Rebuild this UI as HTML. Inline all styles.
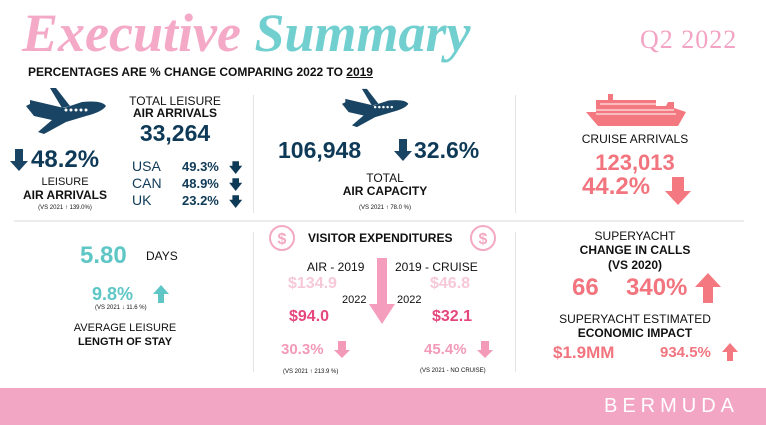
<!DOCTYPE html>
<html><head><meta charset="utf-8"><style>
body{margin:0;width:766px;height:425px;background:#fff;position:relative;overflow:hidden;font-family:"Liberation Sans",sans-serif;font-weight:bold}
.a{position:absolute;white-space:nowrap;line-height:1}
.n{color:#0f3a57}.k{color:#111}.p{color:#e5477c}.lp{color:#f7c9d8}.s{color:#f2747e}.t{color:#5fc6c6}.mp{color:#f39ab9}
.c{text-align:center}
</style></head><body>
<div class="a" style="left:22px;top:6px;font-family:'Liberation Serif',serif;font-style:italic;font-size:54px;color:#f4a9c7">Executive <span style="color:#72cfd0">Summary</span></div>
<div class="a" style="left:640px;top:27px;font-family:'Liberation Serif',serif;font-size:26px;color:#f3a3c3;font-weight:normal;letter-spacing:1px">Q2 2022</div>
<div class="a k" style="left:28px;top:66px;font-size:12px">PERCENTAGES ARE % CHANGE COMPARING 2022 TO <u>2019</u></div>

<div class="a" style="left:253px;top:95px;width:1px;height:118px;background:#e4e4e4"></div>
<div class="a" style="left:515px;top:95px;width:1px;height:118px;background:#e4e4e4"></div>
<div class="a" style="left:253px;top:232px;width:1px;height:140px;background:#e4e4e4"></div>
<div class="a" style="left:515px;top:232px;width:1px;height:140px;background:#e4e4e4"></div>
<div class="a" style="left:14px;top:220px;width:730px;height:2px;background:#ececec"></div>

<svg class="a" style="left:26px;top:86px" width="82" height="50" viewBox="0 0 82 50"><g fill="#1a4463"><path d="M4 14 L38 22 L56 16 Q76 14 80 20 Q76 26 60 30 L40 36 L18 48 L12 46 L26 34 L8 30 L0 20 L4 18 Z"/><path d="M24 2 L30 2 L44 20 L36 22 Z"/></g><g fill="#fff"><circle cx="40" cy="24" r="1.5"/><circle cx="45" cy="24" r="1.5"/><circle cx="50" cy="24" r="1.5"/><circle cx="55" cy="24" r="1.5"/><circle cx="60" cy="24" r="1.5"/></g></svg>
<svg class="a" style="left:342px;top:86px" width="68" height="44" viewBox="0 0 82 50"><g fill="#1a4463"><path d="M4 14 L38 22 L56 16 Q76 14 80 20 Q76 26 60 30 L40 36 L18 48 L12 46 L26 34 L8 30 L0 20 L4 18 Z"/><path d="M24 2 L30 2 L44 20 L36 22 Z"/></g><g fill="#fff"><circle cx="40" cy="24" r="1.5"/><circle cx="45" cy="24" r="1.5"/><circle cx="50" cy="24" r="1.5"/><circle cx="55" cy="24" r="1.5"/><circle cx="60" cy="24" r="1.5"/></g></svg>

<svg class="a" style="left:10px;top:149px" width="18" height="22"><path d="M5 0h8v12h5L9 22 0 12h5z" fill="#1a4463"/></svg>
<div class="a n" style="left:31px;top:148px;font-size:24px">48.2%</div>
<div class="a k c" style="left:20px;width:90px;top:177px;font-size:11px;font-weight:normal">LEISURE</div>
<div class="a k c" style="left:10px;width:110px;top:189px;font-size:12px">AIR ARRIVALS</div>
<div class="a k c" style="left:20px;width:90px;top:205px;font-size:6px;font-weight:normal">(VS 2021 ↑ 139.0%)</div>
<div class="a k c" style="left:125px;width:100px;top:95px;font-size:12px;font-weight:normal">TOTAL LEISURE</div>
<div class="a k c" style="left:125px;width:100px;top:107px;font-size:12px">AIR ARRIVALS</div>
<div class="a n c" style="left:125px;width:100px;top:122px;font-size:23px">33,264</div>
<div class="a n" style="left:132px;top:158px;font-size:14px;line-height:17px;font-weight:normal">USA<br>CAN<br>UK</div>
<div class="a n" style="left:182px;top:158px;font-size:13px;line-height:17px">49.3%<br>48.9%<br>23.2%</div>
<div class="a n" style="left:229px;top:159px;font-size:13px;line-height:17px">🡇<br>🡇<br>🡇</div>

<div class="a n" style="left:278px;top:139px;font-size:23px">106,948</div>
<svg class="a" style="left:394px;top:139px" width="18" height="22"><path d="M5 0h8v12h5L9 22 0 12h5z" fill="#1a4463"/></svg>
<div class="a n" style="left:414px;top:139px;font-size:23px">32.6%</div>
<div class="a k c" style="left:330px;width:110px;top:172px;font-size:12px;font-weight:normal">TOTAL</div>
<div class="a k c" style="left:320px;width:130px;top:185px;font-size:12px">AIR CAPACITY</div>
<div class="a k c" style="left:330px;width:110px;top:205px;font-size:6px;font-weight:normal">(VS 2021 ↑ 78.0 %)</div>

<svg class="a" style="left:586px;top:94px" width="100" height="32" viewBox="0 0 100 32"><g fill="#f4787f"><rect x="22" y="0" width="5" height="6"/><path d="M10 6h60v6h10l2-4h6v6l12 4-8 14H12L0 18h10z"/></g><g stroke="#fff" stroke-width="1"><line x1="8" y1="16" x2="88" y2="16"/><line x1="10" y1="20" x2="90" y2="20"/><line x1="14" y1="10" x2="70" y2="10"/></g></svg>
<div class="a k c" style="left:570px;width:130px;top:133px;font-size:12px;font-weight:normal">CRUISE ARRIVALS</div>
<div class="a s c" style="left:570px;width:130px;top:152px;font-size:22px">123,013</div>
<div class="a s" style="left:582px;top:175px;font-size:24px">44.2%</div>
<svg class="a" style="left:665px;top:177px" width="26" height="28"><path d="M7 0h12v14h7L13 28 0 14h7z" fill="#f4787f"/></svg>

<div class="a t" style="left:80px;top:244px;font-size:24px">5.80</div>
<div class="a k" style="left:146px;top:250px;font-size:12px;font-weight:normal">DAYS</div>
<div class="a t" style="left:92px;top:285px;font-size:18px">9.8%</div>
<svg class="a" style="left:153px;top:285px" width="16" height="18"><path d="M5 18h6V9h5L8 0 0 9h5z" fill="#5fc6c6"/></svg>
<div class="a k" style="left:95px;top:305px;font-size:6px;font-weight:normal">(VS 2021 ↓ 11.6 %)</div>
<div class="a k c" style="left:50px;width:150px;top:323px;font-size:11px;font-weight:normal">AVERAGE LEISURE</div>
<div class="a k c" style="left:50px;width:150px;top:337px;font-size:11px">LENGTH OF STAY</div>

<svg class="a" style="left:268px;top:224px" width="28" height="28"><circle cx="14" cy="14" r="12" fill="none" stroke="#f4a9c3" stroke-width="2"/><text x="14" y="20" text-anchor="middle" font-size="16" fill="#f4a9c3" font-family="Liberation Sans">$</text></svg>
<svg class="a" style="left:469px;top:224px" width="28" height="28"><circle cx="14" cy="14" r="12" fill="none" stroke="#f4a9c3" stroke-width="2"/><text x="14" y="20" text-anchor="middle" font-size="16" fill="#f4a9c3" font-family="Liberation Sans">$</text></svg>
<div class="a k" style="left:308px;top:232px;font-size:12px">VISITOR EXPENDITURES</div>
<div class="a k" style="left:307px;top:261px;font-size:12px;font-weight:normal">AIR - 2019</div>
<div class="a k" style="left:395px;top:261px;font-size:12px;font-weight:normal">2019 - CRUISE</div>
<div class="a lp" style="left:288px;top:276px;font-size:16px">$134.9</div>
<div class="a lp" style="left:430px;top:276px;font-size:16px">$46.8</div>
<svg class="a" style="left:369px;top:258px" width="26" height="66"><path d="M8 0h10v46h8L13 66 0 46h8z" fill="#f49dbc"/></svg>
<div class="a k" style="left:342px;top:295px;font-size:11px;font-weight:normal">2022</div>
<div class="a k" style="left:397px;top:295px;font-size:11px;font-weight:normal">2022</div>
<div class="a p" style="left:289px;top:309px;font-size:16px">$94.0</div>
<div class="a p" style="left:432px;top:309px;font-size:16px">$32.1</div>
<div class="a mp" style="left:281px;top:342px;font-size:15px">30.3%</div>
<svg class="a" style="left:334px;top:341px" width="16" height="17"><path d="M4 0h8v9h4l-8 8-8-8h4z" fill="#f39ab9"/></svg>
<div class="a mp" style="left:424px;top:342px;font-size:15px">45.4%</div>
<svg class="a" style="left:477px;top:341px" width="16" height="17"><path d="M4 0h8v9h4l-8 8-8-8h4z" fill="#f39ab9"/></svg>
<div class="a k" style="left:283px;top:369px;font-size:6px;font-weight:normal">(VS 2021 ↑ 213.9 %)</div>
<div class="a k" style="left:420px;top:368px;font-size:6px;font-weight:normal">(VS 2021 - NO CRUISE)</div>

<div class="a k c" style="left:560px;width:150px;top:230px;font-size:12px;font-weight:normal">SUPERYACHT</div>
<div class="a k c" style="left:560px;width:150px;top:244px;font-size:12px">CHANGE IN CALLS</div>
<div class="a k c" style="left:560px;width:150px;top:259px;font-size:12px">(VS 2020)</div>
<div class="a s" style="left:572px;top:276px;font-size:24px">66</div>
<div class="a s" style="left:626px;top:276px;font-size:24px">340%</div>
<svg class="a" style="left:695px;top:273px" width="26" height="30"><path d="M8 30h10V14h8L13 0 0 14h8z" fill="#f4787f"/></svg>
<div class="a k c" style="left:545px;width:180px;top:313px;font-size:12px;font-weight:normal">SUPERYACHT ESTIMATED</div>
<div class="a k c" style="left:545px;width:180px;top:327px;font-size:12px">ECONOMIC IMPACT</div>
<div class="a s" style="left:553px;top:344px;font-size:17px">$1.9MM</div>
<div class="a s" style="left:660px;top:345px;font-size:15px">934.5%</div>
<svg class="a" style="left:722px;top:343px" width="16" height="18"><path d="M5 18h6V9h5L8 0 0 9h5z" fill="#f4787f"/></svg>

<div class="a" style="left:0;top:388px;width:766px;height:37px;background:#f3a5c4"></div>
<div class="a" style="left:604px;top:396px;font-size:20px;color:#fff;font-weight:normal;letter-spacing:5px">BERMUDA</div>
</body></html>
